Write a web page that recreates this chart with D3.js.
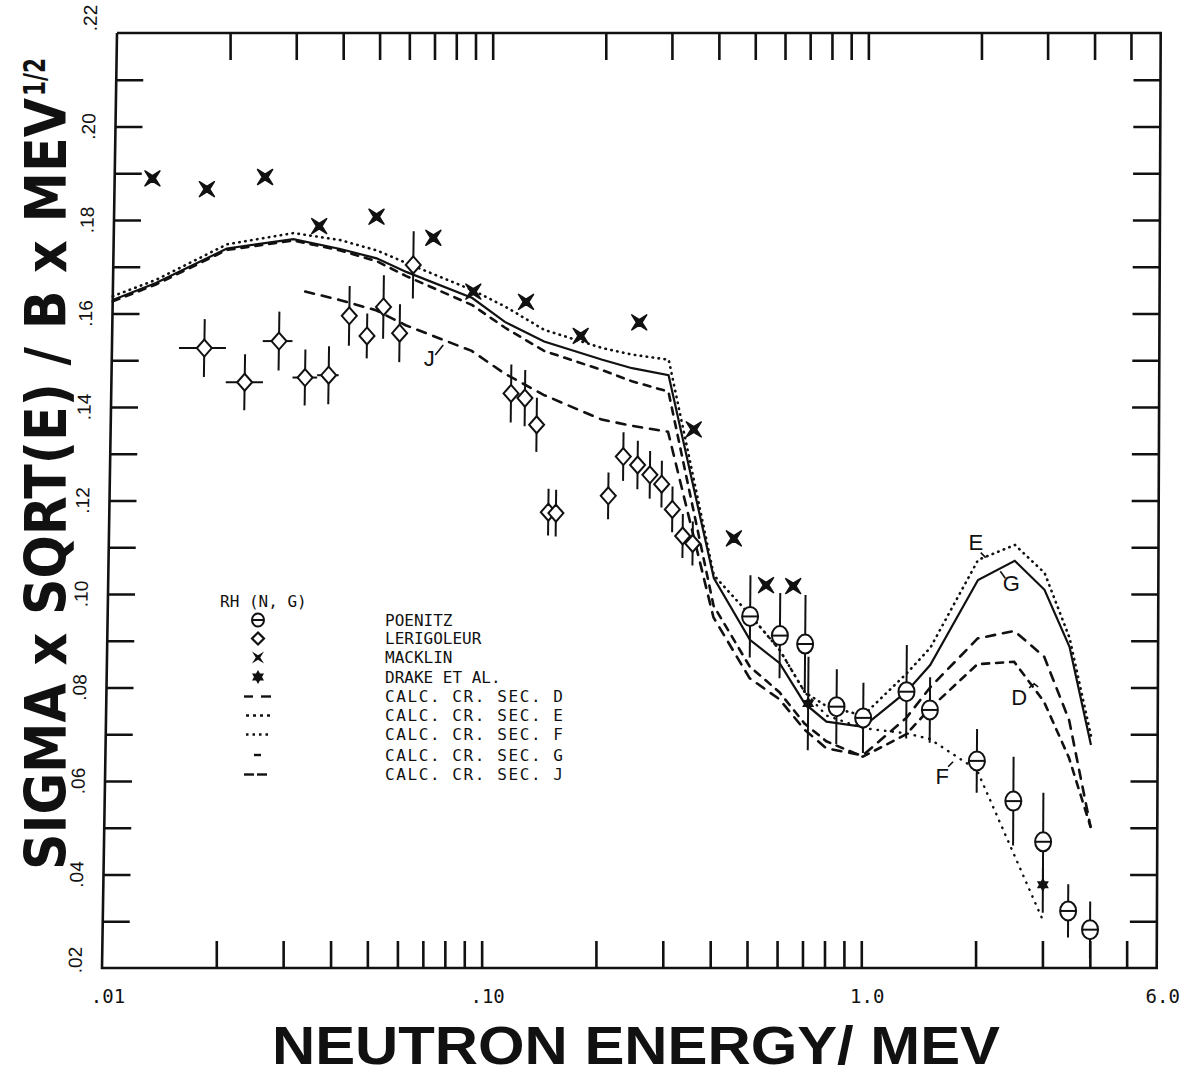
<!DOCTYPE html>
<html>
<head>
<meta charset="utf-8">
<script src="https://cdn.jsdelivr.net/npm/d3@7"></script>
<style>
body { margin: 0; background: #fff; }
svg { display: block; }
.plot { font-family: "DejaVu Sans Mono", monospace; }
</style>
</head>
<body>
<div id="chart"></div>
<script>
// ---- data ----
// Poenitz (circle with bar)
var poenitzE = [0.5, 0.6, 0.7, 0.85, 1.0, 1.3, 1.5, 2.0, 2.5, 3.0, 3.5, 4.0];
var poenitzV = [0.0952, 0.0911, 0.0893, 0.0759, 0.0735, 0.0791, 0.0752, 0.0643, 0.0557, 0.0470, 0.0322, 0.0282];
var poenitzErr = [0.0088, 0.0091, 0.0105, 0.0080, 0.0075, 0.0100, 0.0070, 0.0068, 0.0095, 0.0105, 0.0057, 0.0060];

// Lerigoleur (diamond)
var leriE = [0.01758, 0.02256, 0.02772, 0.0326, 0.03765, 0.0425, 0.04743, 0.05234, 0.05788, 0.06258,
  0.1148, 0.125, 0.1345, 0.1453, 0.1522, 0.2092, 0.2287, 0.2497, 0.2693, 0.2895, 0.3094, 0.33, 0.3509];
var leriV = [0.1526, 0.1453, 0.1541, 0.1463, 0.1468, 0.1595, 0.1552, 0.1614, 0.1558, 0.1704,
  0.1429, 0.1419, 0.1362, 0.1175, 0.1173, 0.1210, 0.1294, 0.1276, 0.1255, 0.1235, 0.1181, 0.1124, 0.1108];
var leriErr = [0.0062, 0.0060, 0.0063, 0.0060, 0.0062, 0.0064, 0.0048, 0.0068, 0.0062, 0.0072,
  0.0062, 0.0060, 0.0058, 0.0050, 0.0050, 0.0050, 0.0052, 0.0052, 0.0051, 0.0050, 0.0049, 0.0047, 0.0047];
var leriElo = [0.01506, 0.0201, 0.0251, 0.0302, 0.0351];
var leriEhi = [0.02006, 0.02523, 0.0301, 0.0351, 0.04003];

// Macklin (four point star)
var macklinE = [0.0126, 0.0176, 0.0251, 0.0351, 0.0498, 0.0706, 0.0905, 0.125, 0.175, 0.25, 0.351, 0.451, 0.55, 0.649];
var macklinV = [0.1889, 0.1866, 0.1892, 0.1787, 0.1807, 0.1762, 0.1647, 0.1625, 0.1552, 0.1581, 0.1352, 0.1119, 0.1019, 0.1017];

// Drake et al. (six point star)
var drakeE = [0.715, 3.0];
var drakeV = [0.0766, 0.0378];
var drakeErr = [0.0100, 0.0060];

// calculated cross sections
var calcE = [0.01, 0.013, 0.02, 0.03, 0.04, 0.05, 0.06, 0.09, 0.11, 0.14, 0.2, 0.24, 0.3,
  0.4, 0.5, 0.6, 0.7, 0.8, 1.0, 1.3, 1.5, 2.0, 2.5, 3.0, 3.5, 4.0];
var calcG = [0.1629, 0.1665, 0.1739, 0.1759, 0.1738, 0.1718, 0.1689, 0.1633, 0.1582, 0.1540, 0.1501, 0.1483, 0.1468,
  0.1034, 0.0902, 0.0852, 0.0766, 0.0727, 0.0716, 0.0791, 0.0848, 0.1030, 0.1071, 0.1009, 0.0887, 0.0677];
var calcEe = [0.1637, 0.1672, 0.1748, 0.1772, 0.1757, 0.1735, 0.1708, 0.1650, 0.1615, 0.1565, 0.1526, 0.1512, 0.1501,
  0.1040, 0.0955, 0.0880, 0.0790, 0.0760, 0.0740, 0.0830, 0.0885, 0.1073, 0.1105, 0.1045, 0.0906, 0.0696];
var calcD = [0.1626, 0.1662, 0.1736, 0.1756, 0.1735, 0.1712, 0.1680, 0.1618, 0.1570, 0.1520, 0.1479, 0.1455, 0.1433,
  0.0975, 0.0845, 0.0790, 0.0723, 0.0685, 0.0652, 0.0700, 0.0755, 0.0850, 0.0855, 0.0770, 0.0650, 0.0502];
var calcJE = [0.0324, 0.04, 0.05, 0.06, 0.09, 0.11, 0.14, 0.2, 0.24, 0.3,
  0.4, 0.5, 0.6, 0.7, 0.8, 1.0, 1.3, 1.5, 2.0, 2.5, 3.0, 3.5, 4.0];
var calcJ = [0.1647, 0.1629, 0.1607, 0.1575, 0.1520, 0.1472, 0.1426, 0.1373, 0.1360, 0.1347,
  0.0950, 0.0820, 0.0775, 0.0710, 0.0670, 0.0655, 0.0735, 0.0800, 0.0905, 0.0921, 0.0866, 0.0730, 0.0502];
var calcFE = [0.5, 0.6, 0.7, 0.8, 1.0, 1.3, 1.5, 2.0, 3.0];
var calcF = [0.0955, 0.0880, 0.0790, 0.0740, 0.0713, 0.0702, 0.0690, 0.0624, 0.0303];

// axis ticks
var xTicks = [0.02, 0.03, 0.04, 0.05, 0.06, 0.07, 0.08, 0.09, 0.1, 0.2, 0.3, 0.4, 0.5, 0.6, 0.7, 0.8, 0.9, 1, 2, 3, 4, 5];
var xLabelVals = [0.01, 0.1, 1.0, 6.0];
var xLabels = [".01", ".10", "1.0", "6.0"];
var yTicks = d3.range(3, 22).map(function(i) { return i / 100; });
var yLabelVals = [0.02, 0.04, 0.06, 0.08, 0.10, 0.12, 0.14, 0.16, 0.18, 0.20, 0.22];
var yLabels = [".02", ".04", ".06", ".08", ".10", ".12", ".14", ".16", ".18", ".20", ".22"];

// curve letters
var tagE = [1.97, 2.45, 2.58, 1.62, 0.0695];
var tagV = [0.111, 0.1023, 0.078, 0.0609, 0.1505];
var tagText = ["E", "G", "D", "F", "J"];

var legendNames = ["POENITZ", "LERIGOLEUR", "MACKLIN", "DRAKE ET AL.",
  "CALC.  CR.  SEC.  D", "CALC.  CR.  SEC.  E", "CALC.  CR.  SEC.  F", "CALC.  CR.  SEC.  G", "CALC.  CR.  SEC.  J"];

// ---- drawing ----
var svgWidth = 1194, svgHeight = 1074;
var svg = d3.select("#chart").append("svg")
  .attr("width", svgWidth)
  .attr("height", svgHeight);

// the scanned frame is slightly skewed, so use one log scale for the bottom edge
// and one for the top edge and blend between them
var xBot = d3.scaleLog().domain([0.01, 6]).range([102, 1156.7]);
var xTop = d3.scaleLog().domain([0.01, 6]).range([117, 1160.7]);
var y = d3.scaleLinear().domain([0.02, 0.22]).range([968, 33]);

function px(e, v) {
  var t = (y(v) - 33) / 935;
  return xTop(e) * (1 - t) + xBot(e) * t;
}

var ink = "#111";
var g = svg.append("g").attr("class", "plot");

// frame
var corners = [[0.01, 0.22], [6, 0.22], [6, 0.02], [0.01, 0.02], [0.01, 0.22]];
g.append("path")
  .attr("d", d3.line().x(function(d) { return px(d[0], d[1]); }).y(function(d) { return y(d[1]); })(corners))
  .attr("fill", "none").attr("stroke", ink).attr("stroke-width", 2.6);

// x axes (ticks pointing inwards)
var bottomAxis = d3.axisBottom(xBot).tickValues(xTicks).tickSize(-27).tickFormat("");
var topAxis = d3.axisTop(xTop).tickValues(xTicks).tickSize(-27).tickFormat("");
g.append("g").attr("transform", "translate(0,968)").call(bottomAxis);
g.append("g").attr("transform", "translate(0,33)").call(topAxis);

// y axes: sheared groups following the slanted frame edges
var leftAxis = d3.axisLeft(y).tickValues(yTicks).tickSize(-27).tickFormat("");
var rightAxis = d3.axisRight(y).tickValues(yTicks).tickSize(-27).tickFormat("");
var leftG = g.append("g").attr("transform", "matrix(1,0,-0.016043,1,117.53,0)");
leftG.call(leftAxis);
var rightG = g.append("g").attr("transform", "matrix(1,0,-0.004278,1,1160.84,0)");
rightG.call(rightAxis);
g.selectAll(".domain").remove();
g.selectAll(".tick line").attr("stroke", ink).attr("stroke-width", 2.6);

// y tick labels (rotated)
leftG.selectAll(".ylab")
  .data(yLabelVals)
  .enter()
  .append("text")
  .attr("class", "ylab")
  .attr("transform", function(d, i) {
    var yy = y(d);
    if (i === 0) yy -= 8;
    if (i === yLabelVals.length - 1) yy -= 15;
    return "translate(-27," + yy + ") rotate(-90)";
  })
  .attr("text-anchor", "middle")
  .attr("dy", "0.35em")
  .attr("font-size", 19)
  .attr("fill", ink)
  .text(function(d, i) { return yLabels[i]; });

// x tick labels
g.selectAll(".xlab")
  .data(xLabelVals)
  .enter()
  .append("text")
  .attr("class", "xlab")
  .attr("x", function(d) { return xBot(d) + 6; })
  .attr("y", 1003)
  .attr("text-anchor", "middle")
  .attr("font-size", 19)
  .attr("fill", ink)
  .text(function(d, i) { return xLabels[i]; });

// axis titles
svg.append("text")
  .attr("transform", "translate(66,870) rotate(-90)")
  .attr("font-family", "'Liberation Sans Narrow', 'DejaVu Sans Condensed', 'Liberation Sans', sans-serif")
  .attr("font-weight", "bold")
  .attr("font-size", 57)
  .attr("textLength", 772)
  .attr("lengthAdjust", "spacingAndGlyphs")
  .attr("fill", ink)
  .text("SIGMA x SQRT(E) / B x MEV");
svg.append("text")
  .attr("transform", "translate(45,96) rotate(-90)")
  .attr("font-family", "'Liberation Sans Narrow', 'DejaVu Sans Condensed', 'Liberation Sans', sans-serif")
  .attr("font-weight", "bold")
  .attr("font-size", 30)
  .attr("textLength", 38)
  .attr("lengthAdjust", "spacingAndGlyphs")
  .attr("fill", ink)
  .text("1/2");
svg.append("text")
  .attr("x", 272)
  .attr("y", 1064)
  .attr("font-family", "'Liberation Sans', Arial, sans-serif")
  .attr("font-weight", "bold")
  .attr("font-size", 54)
  .attr("textLength", 728)
  .attr("lengthAdjust", "spacingAndGlyphs")
  .attr("fill", ink)
  .text("NEUTRON  ENERGY/ MEV");

// ---- calculated curves ----
var line = d3.line()
  .x(function(d) { return px(d[0], d[1]); })
  .y(function(d) { return y(d[1]); });

function curve(es, vs, dash, w) {
  g.append("path")
    .datum(es.map(function(e, i) { return [e, vs[i]]; }))
    .attr("d", line)
    .attr("fill", "none")
    .attr("stroke", ink)
    .attr("stroke-width", w)
    .attr("stroke-linecap", dash ? "round" : "butt")
    .attr("stroke-dasharray", dash);
}
curve(calcE, calcG, null, 2.2);
curve(calcE, calcEe, "0.5,5.5", 2.6);
curve(calcFE, calcF, "0.5,7", 2.4);
curve(calcE, calcD, "7,7", 2.6);
curve(calcJE, calcJ, "9,8", 2.6);

// ---- markers ----
var diamond = "M0,-8.5L7.5,0L0,8.5L-7.5,0Z";
var macklinShape = "M-7.5,-7.5L0,-2.8L7.5,-7.5L2.8,0L7.5,7.5L0,2.8L-7.5,7.5L-2.8,0Z";
var hexagram = "M0,-7L2,-3.5L6,-3.5L4,0L6,3.5L2,3.5L0,7L-2,3.5L-6,3.5L-4,0L-6,-3.5L-2,-3.5Z";

function vbar(e, v, err) {
  g.append("line")
    .attr("x1", px(e, v + err)).attr("y1", y(v + err))
    .attr("x2", px(e, v - err)).attr("y2", y(v - err))
    .attr("stroke", ink).attr("stroke-width", 2);
}

// Lerigoleur
leriE.forEach(function(e, i) {
  vbar(e, leriV[i], leriErr[i]);
  if (i < leriElo.length) {
    g.append("line")
      .attr("x1", px(leriElo[i], leriV[i])).attr("y1", y(leriV[i]))
      .attr("x2", px(leriEhi[i], leriV[i])).attr("y2", y(leriV[i]))
      .attr("stroke", ink).attr("stroke-width", 2);
  }
});
g.selectAll(".leri")
  .data(leriE)
  .enter()
  .append("path")
  .attr("class", "leri")
  .attr("d", diamond)
  .attr("transform", function(d, i) { return "translate(" + px(d, leriV[i]) + "," + y(leriV[i]) + ")"; })
  .attr("fill", "#fff").attr("stroke", ink).attr("stroke-width", 2);

// Poenitz
poenitzE.forEach(function(e, i) { vbar(e, poenitzV[i], poenitzErr[i]); });
drakeE.forEach(function(e, i) { vbar(e, drakeV[i], drakeErr[i]); });
var pg = g.selectAll(".poen")
  .data(poenitzE)
  .enter()
  .append("g")
  .attr("class", "poen")
  .attr("transform", function(d, i) { return "translate(" + px(d, poenitzV[i]) + "," + y(poenitzV[i]) + ")"; });
pg.append("ellipse").attr("rx", 8).attr("ry", 9.5)
  .attr("fill", "#fff").attr("stroke", ink).attr("stroke-width", 2);
pg.append("line").attr("x1", -8).attr("x2", 8).attr("y1", 0).attr("y2", 0)
  .attr("stroke", ink).attr("stroke-width", 2);

// Macklin
g.selectAll(".mack")
  .data(macklinE)
  .enter()
  .append("path")
  .attr("class", "mack")
  .attr("d", macklinShape)
  .attr("transform", function(d, i) { return "translate(" + px(d, macklinV[i]) + "," + y(macklinV[i]) + ")"; })
  .attr("fill", ink).attr("stroke", ink).attr("stroke-width", 1.5).attr("stroke-linejoin", "round");

// Drake
g.selectAll(".drake")
  .data(drakeE)
  .enter()
  .append("path")
  .attr("class", "drake")
  .attr("d", hexagram)
  .attr("transform", function(d, i) { return "translate(" + px(d, drakeV[i]) + "," + y(drakeV[i]) + ")"; })
  .attr("fill", ink);

// ---- curve letters with their little pointer strokes ----
var tags = g.selectAll(".tag")
  .data(tagE)
  .enter()
  .append("g")
  .attr("class", "tag")
  .attr("transform", function(d, i) { return "translate(" + px(d, tagV[i]) + "," + y(tagV[i]) + ")"; });
tags.append("text")
  .attr("dy", "0.35em")
  .attr("text-anchor", "middle")
  .attr("font-family", "'Liberation Sans', Arial, sans-serif")
  .attr("font-size", 22)
  .attr("fill", ink)
  .text(function(d, i) { return tagText[i]; });
var pointers = ["M5,10L10,15", "M-11,-12L-6,-5", "M10,-9L15,-13L19,-10", "M6,-10L11,-15", "M6,-3L14,-13"];
tags.append("path")
  .attr("d", function(d, i) { return pointers[i]; })
  .attr("fill", "none").attr("stroke", ink).attr("stroke-width", 1.6);

// ---- legend ----
var legY = [620, 638.5, 657.5, 677, 696.5, 715.5, 734.5, 755, 774.5];
var lg = g.append("g");
lg.append("text").attr("x", 220).attr("y", 607).attr("font-size", 16).attr("fill", ink).text("RH (N, G)");
lg.selectAll(".legtxt")
  .data(legendNames)
  .enter()
  .append("text")
  .attr("class", "legtxt")
  .attr("x", 385)
  .attr("y", function(d, i) { return legY[i]; })
  .attr("dy", "0.35em")
  .attr("font-size", 16)
  .attr("textLength", function(d, i) { return i < 4 ? null : 178; })
  .attr("fill", ink)
  .text(function(d) { return d; });

var lx = 258;
var p0 = lg.append("g").attr("transform", "translate(" + lx + "," + legY[0] + ")");
p0.append("ellipse").attr("rx", 6).attr("ry", 6.5).attr("fill", "#fff").attr("stroke", ink).attr("stroke-width", 2);
p0.append("line").attr("x1", -6).attr("x2", 6).attr("stroke", ink).attr("stroke-width", 2);
lg.append("path").attr("d", "M0,-6L6,0L0,6L-6,0Z").attr("transform", "translate(" + lx + "," + legY[1] + ")")
  .attr("fill", "#fff").attr("stroke", ink).attr("stroke-width", 2.2);
lg.append("path").attr("d", macklinShape).attr("transform", "translate(" + lx + "," + legY[2] + ") scale(0.8)")
  .attr("fill", ink);
lg.append("path").attr("d", hexagram).attr("transform", "translate(" + lx + "," + legY[3] + ")").attr("fill", ink);
function legSeg(yy, x1, x2) {
  lg.append("line").attr("x1", lx + x1).attr("x2", lx + x2).attr("y1", yy).attr("y2", yy)
    .attr("stroke", ink).attr("stroke-width", 2.4);
}
legSeg(legY[4], -14, -5); legSeg(legY[4], 3, 13);
lg.append("line").attr("x1", lx - 12).attr("x2", lx + 12).attr("y1", legY[5]).attr("y2", legY[5])
  .attr("stroke", ink).attr("stroke-width", 2.4).attr("stroke-dasharray", "3,4");
lg.append("line").attr("x1", lx - 12).attr("x2", lx + 14).attr("y1", legY[6]).attr("y2", legY[6])
  .attr("stroke", ink).attr("stroke-width", 2.4).attr("stroke-dasharray", "2.5,4");
legSeg(legY[7], -4, 3);
legSeg(legY[8], -14, -4); legSeg(legY[8], -1, 9);
</script>
</body>
</html>
